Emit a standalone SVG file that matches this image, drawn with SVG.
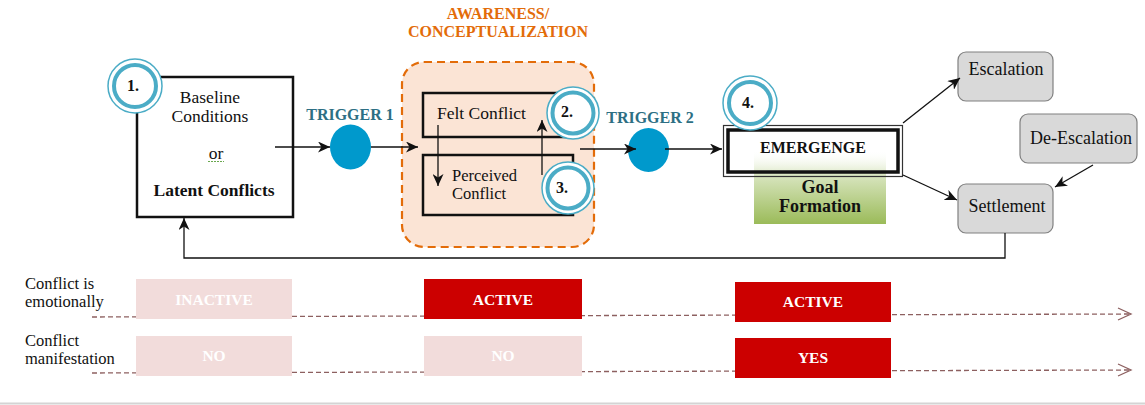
<svg xmlns="http://www.w3.org/2000/svg" width="1145" height="405" viewBox="0 0 1145 405">
<style>
  text { font-family: "Liberation Serif", "Times New Roman", serif; fill: #111; }
  .t { font-size: 17.5px; }
  .t2 { font-size: 16.5px; }
  .b { font-weight: bold; }
  .trig { font-size: 16px; font-weight: bold; fill: #2d6f84; }
  .aw { font-size: 16px; font-weight: bold; fill: #e36c09; }
  .num { font-size: 16px; font-weight: bold; }
  .ring-o { fill: #fff; stroke: #4bacc6; stroke-width: 1.5; }
  .ring-i { fill: #fff; stroke: #4bacc6; stroke-width: 4; }
  .conn { fill: none; stroke: #111; stroke-width: 1.3; }
  .gray { fill: #d9d9d9; stroke: #808080; stroke-width: 1.2; }
  .pale { fill: #f2dcdb; }
  .red { fill: #cc0000; }
  .wt { font-size: 15.5px; font-weight: bold; fill: #fff; }
  .dash { fill: none; stroke: #8d6060; stroke-width: 1.3; stroke-dasharray: 5 3; }
</style>
<defs>
  <marker id="ah" markerUnits="userSpaceOnUse" markerWidth="13" markerHeight="11" refX="12" refY="5.5" orient="auto">
    <path d="M0,0 L12,5.5 L0,11 L3.5,5.5 z" fill="#111"/>
  </marker>
  <linearGradient id="green" x1="0" y1="0" x2="0" y2="1">
    <stop offset="0" stop-color="#ffffff" stop-opacity="0"/>
    <stop offset="0.35" stop-color="#d7e4bd"/>
    <stop offset="1" stop-color="#9bbb59"/>
  </linearGradient>
</defs>

<!-- Awareness / Conceptualization -->
<g id="awareness">
  <text class="aw" x="498" y="19" text-anchor="middle">AWARENESS/</text>
  <text class="aw" x="498" y="37" text-anchor="middle">CONCEPTUALIZATION</text>
  <rect x="402" y="62" width="192" height="185" rx="22" fill="#fbe4d5" stroke="#e36c09" stroke-width="2.2" stroke-dasharray="8 5"/>
</g>

<!-- Baseline -->
<g id="baseline">
  <rect x="137" y="77" width="156" height="140" fill="#fff" stroke="#111" stroke-width="2.5"/>
  <text class="t" x="210" y="103" text-anchor="middle">Baseline</text>
  <text class="t" x="210" y="122" text-anchor="middle">Conditions</text>
  <text class="t" x="216" y="159" text-anchor="middle">or</text>
  <line x1="208" y1="161.5" x2="224" y2="161.5" stroke="#6aa84f" stroke-width="1" stroke-dasharray="2 1"/>
  <text class="t b" x="214" y="196" text-anchor="middle">Latent Conflicts</text>
</g>

<g id="felt">
  <rect x="423" y="93" width="150" height="44" fill="none" stroke="#111" stroke-width="2.5"/>
  <text class="t" x="437" y="119">Felt Conflict</text>
</g>
<g id="perceived">
  <rect x="423" y="155" width="150" height="60" fill="none" stroke="#111" stroke-width="2.5"/>
  <text class="t2" x="452" y="181">Perceived</text>
  <text class="t2" x="452" y="199">Conflict</text>
</g>

<!-- Triggers -->
<g id="trigger1">
  <text class="trig" x="350" y="120" text-anchor="middle">TRIGGER 1</text>
  <ellipse cx="350.5" cy="147" rx="20.5" ry="22.5" fill="#0099cc"/>
</g>
<g id="trigger2">
  <text class="trig" x="650" y="123" text-anchor="middle">TRIGGER 2</text>
  <ellipse cx="648.5" cy="150" rx="20.5" ry="22" fill="#0099cc"/>
</g>

<!-- Emergence -->
<g id="emergence">
  <rect x="728" y="130" width="170" height="42" fill="#fff"/>
  <rect x="754" y="150" width="132" height="74" fill="url(#green)"/>
  <rect x="723.5" y="125.5" width="179" height="51" fill="none" stroke="#333" stroke-width="1.2"/>
  <rect x="728" y="130" width="170" height="42" fill="none" stroke="#111" stroke-width="3.5"/>
  <text class="t b" x="813" y="153" text-anchor="middle" style="font-size:16px">EMERGENGE</text>
  <text class="t b" x="820" y="193" text-anchor="middle" style="font-size:18px">Goal</text>
  <text class="t b" x="820" y="212" text-anchor="middle" style="font-size:18px">Formation</text>
</g>

<g id="escalation">
  <rect class="gray" x="958" y="52" width="95" height="49" rx="8"/>
  <text class="t" x="1006" y="75" text-anchor="middle" style="font-size:18px">Escalation</text>
</g>
<g id="deescalation">
  <rect class="gray" x="1020" y="114" width="117" height="49" rx="8"/>
  <text class="t" x="1081" y="144" text-anchor="middle" style="font-size:18px">De-Escalation</text>
</g>
<g id="settlement">
  <rect class="gray" x="958" y="184" width="95" height="49" rx="8"/>
  <text class="t" x="1007" y="212" text-anchor="middle" style="font-size:18px">Settlement</text>
</g>

<!-- Connectors -->
<g id="connectors">
  <line class="conn" x1="275" y1="147" x2="330" y2="147" marker-end="url(#ah)"/>
  <line class="conn" x1="371" y1="147" x2="418" y2="147" marker-end="url(#ah)"/>
  <line class="conn" x1="438" y1="125" x2="438" y2="186" marker-end="url(#ah)"/>
  <line class="conn" x1="542" y1="175" x2="542" y2="120" marker-end="url(#ah)"/>
  <line class="conn" x1="580" y1="149" x2="636" y2="149" marker-end="url(#ah)"/>
  <line class="conn" x1="665" y1="149" x2="722" y2="149" marker-end="url(#ah)"/>
  <line class="conn" x1="903" y1="123" x2="960" y2="78" marker-end="url(#ah)"/>
  <line class="conn" x1="903" y1="175" x2="957" y2="200" marker-end="url(#ah)"/>
  <line class="conn" x1="1093" y1="165" x2="1055" y2="187" marker-end="url(#ah)"/>
  <polyline class="conn" points="1005,233 1005,258 184,258 184,218" stroke="#333" marker-end="url(#ah)"/>
</g>

<!-- Number badges -->
<g id="badge1">
  <circle class="ring-o" cx="135" cy="86" r="27"/>
  <circle class="ring-i" cx="135" cy="86" r="21"/>
  <text class="num" x="133" y="91" text-anchor="middle">1.</text>
</g>
<g id="badge2">
  <circle class="ring-o" cx="573" cy="113" r="26"/>
  <circle class="ring-i" cx="573" cy="113" r="20.5"/>
  <text class="num" x="567" y="117" text-anchor="middle">2.</text>
</g>
<g id="badge3">
  <circle class="ring-o" cx="568" cy="188" r="26"/>
  <circle class="ring-i" cx="568" cy="188" r="20.5"/>
  <text class="num" x="562" y="193" text-anchor="middle">3.</text>
</g>
<g id="badge4">
  <circle class="ring-o" cx="750" cy="103" r="27"/>
  <circle class="ring-i" cx="750" cy="103" r="21"/>
  <text class="num" x="748" y="108" text-anchor="middle">4.</text>
</g>

<!-- Bottom timeline -->
<g id="row-emotion">
  <text class="t2" x="25" y="289">Conflict is</text>
  <text class="t2" x="25" y="307">emotionally</text>
  <line class="dash" x1="92" y1="317" x2="1131" y2="314"/>
  <polyline points="1118,308 1131,314 1118,320" fill="none" stroke="#8d6060" stroke-width="1.3"/>
  <rect class="pale" x="136" y="279" width="156" height="40"/>
  <text class="wt" x="214" y="305" text-anchor="middle">INACTIVE</text>
  <rect class="red" x="424" y="279" width="158" height="40"/>
  <text class="wt" x="503" y="305" text-anchor="middle">ACTIVE</text>
  <rect class="red" x="735" y="282" width="156" height="40"/>
  <text class="wt" x="813" y="307" text-anchor="middle">ACTIVE</text>
</g>
<g id="row-manifest">
  <text class="t2" x="25" y="346">Conflict</text>
  <text class="t2" x="25" y="364">manifestation</text>
  <line class="dash" x1="92" y1="373" x2="1131" y2="370"/>
  <polyline points="1118,364 1131,370 1118,376" fill="none" stroke="#8d6060" stroke-width="1.3"/>
  <rect class="pale" x="136" y="336" width="156" height="40"/>
  <text class="wt" x="214" y="361" text-anchor="middle">NO</text>
  <rect class="pale" x="424" y="336" width="158" height="40"/>
  <text class="wt" x="503" y="361" text-anchor="middle">NO</text>
  <rect class="red" x="735" y="338" width="156" height="40"/>
  <text class="wt" x="813" y="363" text-anchor="middle">YES</text>
</g>
<line x1="0" y1="403.5" x2="1145" y2="403.5" stroke="#d4d4d4" stroke-width="2"/>
</svg>
